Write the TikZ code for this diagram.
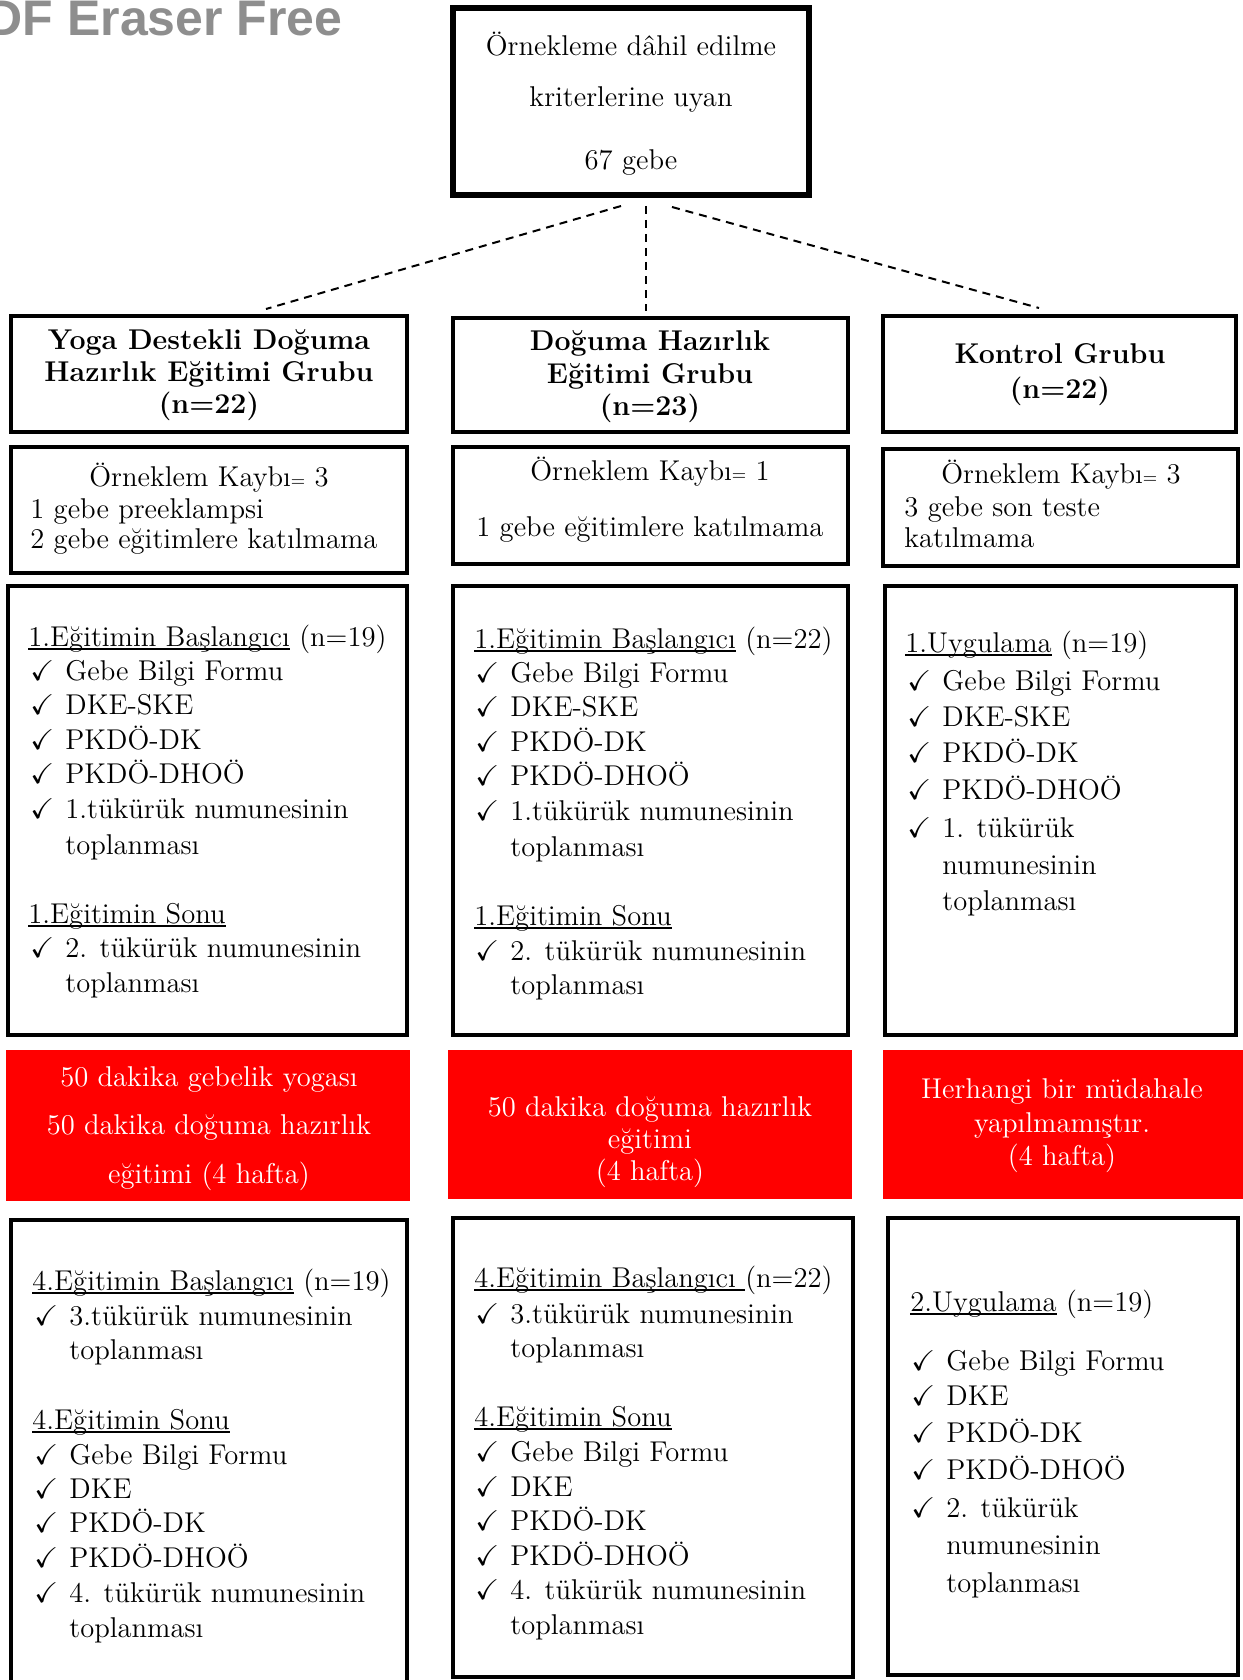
\documentclass[tikz,border=0pt]{standalone}
\usepackage{fontspec}
\usepackage{amssymb}
\newfontfamily\wmfont{Liberation Sans}
\usetikzlibrary{calc}
\definecolor{wmgray}{RGB}{142,142,142}
\tikzset{
frame/.style={draw, line width=2pt, inner sep=0pt, outer sep=0pt},
topframe/.style={frame, line width=2.8pt},
redbox/.style={fill=red, draw=none, inner sep=0pt, outer sep=0pt},
txt/.style={inner sep=0pt, anchor=west, text height=10pt, text depth=3pt},
ctxt/.style={inner sep=0pt, text height=10pt, text depth=3pt},
dashline/.style={dash pattern=on 4pt off 3pt, line width=1pt}
}
\newcommand{\drawframe}[6]{%
\node[#6, minimum width={(#3-#1)*0.5pt}, minimum height={(#4-#2)*0.5pt}] (#5) at ({(#1+#3)/2},{(#2+#4)/2}) {};
}
\newcommand{\lineat}[4]{%
\node[txt] (#3) at (#1,#2) {#4};
}
\newcommand{\tickat}[4]{%
\node[txt] (#3) at (#1,#2) {\makebox[17.5pt][l]{$\checkmark$}#4};
}
\newcommand{\centerat}[4]{%
\node[ctxt] (#3) at (#1,#2) {#4};
}
\newcommand{\smalleq}{{\fontsize{9}{9}\selectfont=}}
\newcommand{\ulin}[1]{\setbox0\hbox{#1}\rlap{\rule[-1.8pt]{\wd0}{0.7pt}}\box0\relax}

\begin{document}
\begin{tikzpicture}[x=0.5pt,y=-0.5pt,font=\fontsize{14.3}{17}\selectfont]

\useasboundingbox (0,0) rectangle (1242,1680);

\node[anchor=base east, text=wmgray, inner sep=0pt, font=\wmfont\bfseries\fontsize{25}{25}\selectfont] (wm) at (343,36) {PDF Eraser Free};



\drawframe{453}{8}{809}{195}{top}{topframe}
\centerat{631}{49}{top1}{Örnekleme dâhil edilme}
\centerat{631}{100}{top2}{kriterlerine uyan}
\centerat{631}{163}{top3}{67 gebe}


\coordinate (a1) at (621,206);
\coordinate (a2) at (266,309);
\coordinate (b1) at (646,206);
\coordinate (b2) at (646,311);
\coordinate (c1) at (672,207);
\coordinate (c2) at (1039,308);

\draw[dashline] (a1) -- (a2);
\draw[dashline] (b1) -- (b2);
\draw[dashline] (c1) -- (c2);



\drawframe{11}{316}{407}{432}{gy}{frame}
\begin{scope}[font=\fontsize{14.3}{17}\selectfont\bfseries]
\centerat{209}{342}{gy1}{Yoga Destekli Doğuma}
\centerat{209}{374}{gy2}{Hazırlık Eğitimi Grubu}
\centerat{209}{406}{gy3}{(n=22)}
\end{scope}

\drawframe{453}{318}{848}{432}{gd}{frame}
\begin{scope}[font=\fontsize{14.3}{17}\selectfont\bfseries]
\centerat{650}{343}{gd1}{Doğuma Hazırlık}
\centerat{650}{376}{gd2}{Eğitimi Grubu}
\centerat{650}{408}{gd3}{(n=23)}
\end{scope}

\drawframe{883}{316}{1236}{432}{gk}{frame}
\begin{scope}[font=\fontsize{14.3}{17}\selectfont\bfseries]
\centerat{1060}{356}{gk1}{Kontrol Grubu}
\centerat{1060}{391}{gk2}{(n=22)}
\end{scope}



\drawframe{11}{447}{407}{573}{ly}{frame}
\centerat{209}{479}{ly1}{Örneklem Kaybı\smalleq\ 3}
\lineat{30}{511}{ly2}{1 gebe preeklampsi}
\lineat{30}{541}{ly3}{2 gebe eğitimlere katılmama}

\drawframe{453}{447}{848}{564}{ld}{frame}
\centerat{650}{473}{ld1}{Örneklem Kaybı\smalleq\ 1}
\lineat{476}{529}{ld2}{1 gebe eğitimlere katılmama}

\drawframe{883}{449}{1238}{566}{lk}{frame}
\centerat{1061}{476}{lk1}{Örneklem Kaybı\smalleq\ 3}
\lineat{904}{509}{lk2}{3 gebe son teste}
\lineat{904}{540}{lk3}{katılmama}



\drawframe{8}{586}{407}{1035}{py}{frame}
\lineat{28}{639}{py0}{\ulin{1.Eğitimin Başlangıcı} (n=19)}
\tickat{30}{673}{py1}{Gebe Bilgi Formu}
\tickat{30}{707}{py2}{DKE-SKE}
\tickat{30}{742}{py3}{PKDÖ-DK}
\tickat{30}{776}{py4}{PKDÖ-DHOÖ}
\tickat{30}{811}{py5}{1.tükürük numunesinin}
\lineat{65}{847}{py6}{toplanması}
\lineat{28}{916}{py7}{\ulin{1.Eğitimin Sonu}}
\tickat{30}{950}{py8}{2. tükürük numunesinin}
\lineat{65}{985}{py9}{toplanması}

\drawframe{453}{586}{848}{1035}{pd}{frame}
\lineat{474}{641}{pd0}{\ulin{1.Eğitimin Başlangıcı} (n=22)}
\tickat{475}{675}{pd1}{Gebe Bilgi Formu}
\tickat{475}{709}{pd2}{DKE-SKE}
\tickat{475}{744}{pd3}{PKDÖ-DK}
\tickat{475}{778}{pd4}{PKDÖ-DHOÖ}
\tickat{475}{813}{pd5}{1.tükürük numunesinin}
\lineat{510}{849}{pd6}{toplanması}
\lineat{474}{918}{pd7}{\ulin{1.Eğitimin Sonu}}
\tickat{475}{953}{pd8}{2. tükürük numunesinin}
\lineat{510}{987}{pd9}{toplanması}

\drawframe{885}{586}{1236}{1035}{pk}{frame}
\lineat{905}{645}{pk0}{\ulin{1.Uygulama} (n=19)}
\tickat{907}{683}{pk1}{Gebe Bilgi Formu}
\tickat{907}{719}{pk2}{DKE-SKE}
\tickat{907}{755}{pk3}{PKDÖ-DK}
\tickat{907}{792}{pk4}{PKDÖ-DHOÖ}
\tickat{907}{830}{pk5}{1. tükürük}
\lineat{942}{867}{pk6}{numunesinin}
\lineat{942}{903}{pk7}{toplanması}



\drawframe{6}{1050}{410}{1201}{ry}{redbox}
\begin{scope}[text=white]
\centerat{209}{1079}{ry1}{50 dakika gebelik yogası}
\centerat{209}{1127}{ry2}{50 dakika doğuma hazırlık}
\centerat{209}{1176}{ry3}{eğitimi (4 hafta)}
\end{scope}

\drawframe{448}{1050}{852}{1199}{rd}{redbox}
\begin{scope}[text=white]
\centerat{650}{1109}{rd1}{50 dakika doğuma hazırlık}
\centerat{650}{1141}{rd2}{eğitimi}
\centerat{650}{1173}{rd3}{(4 hafta)}
\end{scope}

\drawframe{883}{1050}{1250}{1199}{rk}{redbox}
\begin{scope}[text=white]
\centerat{1062}{1091}{rk1}{Herhangi bir müdahale}
\centerat{1062}{1125}{rk2}{yapılmamıştır.}
\centerat{1062}{1158}{rk3}{(4 hafta)}
\end{scope}



\drawframe{11}{1220}{407}{1720}{sy}{frame}
\lineat{32}{1283}{sy0}{\ulin{4.Eğitimin Başlangıcı} (n=19)}
\tickat{34}{1318}{sy1}{3.tükürük numunesinin}
\lineat{69}{1352}{sy2}{toplanması}
\lineat{32}{1422}{sy3}{\ulin{4.Eğitimin Sonu}}
\tickat{34}{1457}{sy4}{Gebe Bilgi Formu}
\tickat{34}{1491}{sy5}{DKE}
\tickat{34}{1525}{sy6}{PKDÖ-DK}
\tickat{34}{1560}{sy7}{PKDÖ-DHOÖ}
\tickat{34}{1595}{sy8}{4. tükürük numunesinin}
\lineat{69}{1630}{sy9}{toplanması}

\drawframe{453}{1218}{853}{1677}{sd}{frame}
\lineat{474}{1280}{sd0}{\ulin{4.Eğitimin Başlangıcı\ }(n=22)}
\tickat{475}{1316}{sd1}{3.tükürük numunesinin}
\lineat{510}{1350}{sd2}{toplanması}
\lineat{474}{1419}{sd3}{\ulin{4.Eğitimin Sonu}}
\tickat{475}{1454}{sd4}{Gebe Bilgi Formu}
\tickat{475}{1489}{sd5}{DKE}
\tickat{475}{1523}{sd6}{PKDÖ-DK}
\tickat{475}{1558}{sd7}{PKDÖ-DHOÖ}
\tickat{475}{1592}{sd8}{4. tükürük numunesinin}
\lineat{510}{1627}{sd9}{toplanması}

\drawframe{888}{1218}{1238}{1675}{sk}{frame}
\lineat{910}{1304}{sk0}{\ulin{2.Uygulama} (n=19)}
\tickat{911}{1363}{sk1}{Gebe Bilgi Formu}
\tickat{911}{1398}{sk2}{DKE}
\tickat{911}{1435}{sk3}{PKDÖ-DK}
\tickat{911}{1472}{sk4}{PKDÖ-DHOÖ}
\tickat{911}{1510}{sk5}{2. tükürük}
\lineat{946}{1547}{sk6}{numunesinin}
\lineat{946}{1585}{sk7}{toplanması}


\end{tikzpicture}
\end{document}
